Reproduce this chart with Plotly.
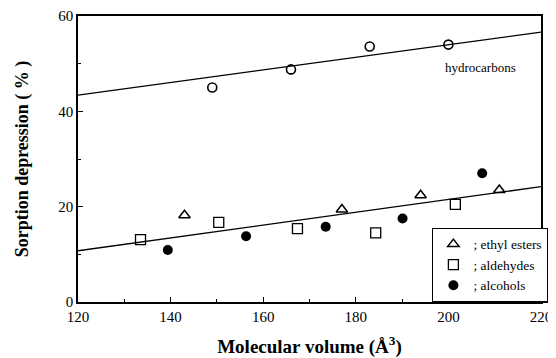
import plotly.graph_objects as go

# Data
hc_x = [149, 166, 183, 200]
hc_y = [45.0, 48.8, 53.6, 54.0]

ester_x = [143, 177, 194, 211]
ester_y = [18.2, 19.4, 22.4, 23.5]

ald_x = [133.5, 150.4, 167.4, 184.3, 201.5]
ald_y = [13.1, 16.7, 15.4, 14.5, 20.5]

alc_x = [139.4, 156.3, 173.5, 190.1, 207.3]
alc_y = [10.9, 13.8, 15.8, 17.5, 27.0]

fit_x = [120, 220]
hc_fit = [43.4, 56.6]
low_fit = [10.75, 24.2]

FONT = "Liberation Serif"

fig = go.Figure()

fig.add_trace(go.Scatter(x=fit_x, y=hc_fit, mode="lines",
                         line=dict(color="black", width=1.3), showlegend=False, hoverinfo="skip"))
fig.add_trace(go.Scatter(x=fit_x, y=low_fit, mode="lines",
                         line=dict(color="black", width=1.3), showlegend=False, hoverinfo="skip"))

fig.add_trace(go.Scatter(x=hc_x, y=hc_y, mode="markers", name="hydrocarbons",
                         marker=dict(symbol="circle-open", size=9, color="black",
                                     line=dict(width=1.6, color="black")),
                         showlegend=False))
fig.add_trace(go.Scatter(x=ester_x, y=ester_y, mode="markers", name="; ethyl esters",
                         marker=dict(symbol="triangle-up-open", size=10, color="black",
                                     line=dict(width=1.5, color="black"))))
fig.add_trace(go.Scatter(x=ald_x, y=ald_y, mode="markers", name="; aldehydes",
                         marker=dict(symbol="square-open", size=10, color="black",
                                     line=dict(width=1.3, color="black"))))
fig.add_trace(go.Scatter(x=alc_x, y=alc_y, mode="markers", name="; alcohols",
                         marker=dict(symbol="circle", size=10, color="black")))

fig.add_annotation(x=207, y=49.3, xref="x", yref="y", text="hydrocarbons",
                   showarrow=False, font=dict(family=FONT, size=13, color="black"))

axis_common = dict(
    showline=True, linecolor="black", linewidth=1.5, mirror=True,
    ticks="inside", ticklen=5, tickwidth=1.2, tickcolor="black",
    showgrid=False, zeroline=False, automargin=False,
    tickfont=dict(family=FONT, size=15, color="black"),
)

fig.update_xaxes(range=[120, 220], dtick=20,
                 minor=dict(ticks="inside", dtick=10, ticklen=3, tickcolor="black"),
                 title=dict(text="<b>Molecular volume (Å<sup>3</sup>)</b>",
                            font=dict(family=FONT, size=19, color="black"), standoff=22),
                 **axis_common)
fig.update_yaxes(range=[0, 60], dtick=20,
                 minor=dict(ticks="inside", dtick=10, ticklen=3, tickcolor="black"),
                 title=dict(text="<b>Sorption depression ( % )</b>",
                            font=dict(family=FONT, size=18, color="black"), standoff=25),
                 **axis_common)

# The page body adds an 8px offset, so the figure is sized to compensate.
fig.update_layout(
    width=548, height=350,
    margin=dict(l=70, r=9, t=8, b=56),
    paper_bgcolor="white", plot_bgcolor="white",
    font=dict(family=FONT, color="black"),
    legend=dict(x=0.765, y=0.26, xanchor="left", yanchor="top",
                bgcolor="white", bordercolor="black", borderwidth=1.2,
                font=dict(family=FONT, size=13.5, color="black"),
                tracegroupgap=0, itemwidth=30),
)

fig.write_html("out.html")
